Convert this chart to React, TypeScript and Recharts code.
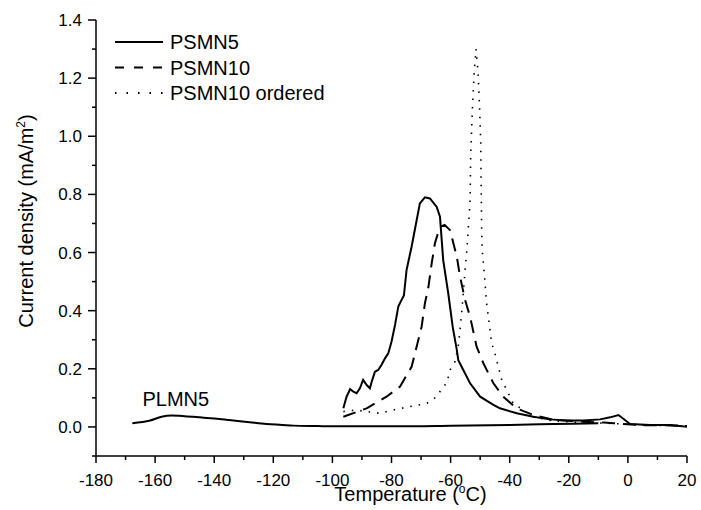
import React from 'react';
import { LineChart, Line, XAxis, YAxis, ReferenceDot } from 'recharts';

// PSMN5 (solid)
const psmn5T = [-96.3, -95.2, -94.0, -92.9, -91.8, -90.7, -89.6, -88.4, -87.3, -86.7, -85.6, -84.5, -83.4, -82.2, -81.1, -80.0, -78.8, -77.7, -76.6, -75.8, -74.9, -73.2, -71.7, -70.4, -68.7, -67.0, -64.7, -63.6, -62.5, -60.8, -59.3, -57.9, -57.4, -55.7, -53.4, -50.0, -45.5, -43.3, -37.6, -32.0, -26.4, -20.7, -15.0, -9.4, -6.0, -3.2, -1.0, 0.7, 7.5, 14.3, 20];
const psmn5V = [0.064, 0.104, 0.130, 0.121, 0.116, 0.133, 0.162, 0.144, 0.133, 0.156, 0.190, 0.196, 0.213, 0.236, 0.253, 0.293, 0.351, 0.414, 0.437, 0.452, 0.540, 0.620, 0.700, 0.769, 0.790, 0.786, 0.757, 0.723, 0.574, 0.460, 0.345, 0.265, 0.230, 0.196, 0.150, 0.104, 0.076, 0.064, 0.047, 0.035, 0.026, 0.022, 0.022, 0.026, 0.033, 0.041, 0.024, 0.010, 0.007, 0.007, 0.001];

// PSMN10 (dashed)
const psmn10T = [-96.3, -88.4, -81.7, -77.1, -73.2, -71.5, -69.8, -68.7, -67.5, -66.4, -65.3, -63.6, -62.0, -60.2, -57.9, -56.8, -55.1, -53.4, -51.2, -48.9, -45.5, -42.2, -37.7, -32.0, -25.0, -15.0, -8.0, -4.9, -2.0, 5.0, 12.0, 20];
const psmn10V = [0.035, 0.064, 0.104, 0.139, 0.207, 0.276, 0.345, 0.425, 0.482, 0.563, 0.632, 0.689, 0.695, 0.677, 0.586, 0.517, 0.437, 0.379, 0.276, 0.219, 0.150, 0.104, 0.064, 0.041, 0.024, 0.018, 0.015, 0.013, 0.010, 0.006, 0.006, 0.003];

// PSMN10 ordered (dotted)
const orderedT = [-96.3, -92.0, -88.4, -83.9, -78.3, -72.6, -68.1, -64.7, -62.5, -61.3, -60.2, -58.5, -57.4, -56.8, -56.2, -55.7, -55.1, -54.5, -53.9, -53.4, -53.2, -52.6, -52.0, -51.4, -50.7, -50.2, -49.8, -49.7, -49.5, -49.3, -48.7, -47.8, -46.1, -45.0, -42.7, -38.8, -32.0, -25.0, -15.0, -5.0, 5.0, 20];
const orderedV = [0.053, 0.058, 0.053, 0.047, 0.061, 0.072, 0.081, 0.104, 0.139, 0.150, 0.196, 0.225, 0.280, 0.334, 0.400, 0.460, 0.540, 0.609, 0.700, 0.780, 0.935, 1.100, 1.220, 1.300, 1.220, 1.100, 0.980, 0.860, 0.690, 0.609, 0.540, 0.425, 0.288, 0.253, 0.162, 0.081, 0.035, 0.020, 0.015, 0.012, 0.006, 0.004];

// PLMN5 (solid, labelled on the plot)
const plmn5T = [-167.7, -161.7, -157.8, -154.4, -150.0, -144.8, -139.0, -133.5, -128.0, -122.3, -117.0, -113.2, -105.0, -99.7, -90.0, -79.0, -60.0, -40.0, -25.0, -10.0];
const plmn5V = [0.013, 0.022, 0.035, 0.039, 0.037, 0.033, 0.028, 0.022, 0.016, 0.010, 0.007, 0.0045, 0.003, 0.002, 0.002, 0.002, 0.004, 0.007, 0.010, 0.013];

const xTicks = [-180, -170, -160, -150, -140, -130, -120, -110, -100, -90, -80, -70, -60, -50, -40, -30, -20, -10, 0, 10, 20];
const yTicks = [-0.1, 0, 0.1, 0.2, 0.3, 0.4, 0.5, 0.6, 0.7, 0.8, 0.9, 1.0, 1.1, 1.2, 1.3, 1.4];

const legendItems = [
  { name: 'PSMN5', dash: undefined },
  { name: 'PSMN10', dash: '9 10' },
  { name: 'PSMN10 ordered', dash: '1.5 10' },
];

const zip = (t: number[], v: number[]) => t.map((x, i) => ({ t: x, v: v[i] }));

const FONT = '"Liberation Sans", Arial, sans-serif';

const BottomTick = (props: any) => {
  const { x, y, payload } = props;
  const major = Math.round(payload.value) % 20 === 0;
  return (
    <g>
      <line x1={x} x2={x} y1={y} y2={y + (major ? 7 : 4)} stroke="#000" strokeWidth={1.5} />
      {major && (
        <text x={x} y={y + 30} textAnchor="middle" fontSize={17} fontFamily={FONT} fill="#000">
          {payload.value}
        </text>
      )}
    </g>
  );
};

const LeftTick = (props: any) => {
  const { x, y, payload } = props;
  const n = Math.round(payload.value * 10);
  const major = n >= 0 && n % 2 === 0;
  return (
    <g>
      <line x1={x} x2={x - (major ? 8 : 4)} y1={y} y2={y} stroke="#000" strokeWidth={1.5} />
      {major && (
        <text x={x - 14} y={y + 6} textAnchor="end" fontSize={17} fontFamily={FONT} fill="#000">
          {payload.value.toFixed(1)}
        </text>
      )}
    </g>
  );
};

const TopTick = (props: any) => {
  const { x, y } = props;
  return <line x1={x} x2={x} y1={y} y2={y + 3} stroke="#000" strokeWidth={1} />;
};

const RightTick = (props: any) => {
  const { x, y } = props;
  return <line x1={x} x2={x - 3} y1={y} y2={y} stroke="#000" strokeWidth={1} />;
};

const XTitle = (props: any) => {
  const { viewBox } = props;
  const cx = viewBox.x + viewBox.width / 2 + 19;
  return (
    <text x={cx} y={viewBox.y + 45} textAnchor="middle" fontSize={20} fontFamily={FONT} fill="#000">
      Temperature (<tspan dy={-8} fontSize={12}>o</tspan>
      <tspan dy={8}>C)</tspan>
    </text>
  );
};

const YTitle = () => (
  <text
    x={33}
    y={221}
    transform="rotate(-90 33 221)"
    textAnchor="middle"
    fontSize={20}
    fontFamily={FONT}
    fill="#000"
  >
    Current density (mA/m<tspan dy={-8} fontSize={12}>2</tspan>
    <tspan dy={8}>)</tspan>
  </text>
);

export default function App() {
  return (
    <div style={{ position: 'absolute', left: 0, top: 0, width: 701, height: 510, background: '#fff' }}>
      <LineChart width={701} height={510} margin={{ top: 20, right: 14, bottom: 0, left: 0 }}>
        <XAxis
          xAxisId="b"
          type="number"
          dataKey="t"
          domain={[-180, 20]}
          ticks={xTicks}
          interval={0}
          orientation="bottom"
          height={54}
          tickSize={0}
          tickMargin={0}
          tickLine={false}
          tick={<BottomTick />}
          axisLine={{ stroke: '#000', strokeWidth: 1.5 }}
          allowDataOverflow
          label={<XTitle />}
        />
        <XAxis
          xAxisId="t"
          type="number"
          dataKey="t"
          domain={[-180, 20]}
          ticks={xTicks}
          interval={0}
          orientation="top"
          height={0}
          tickSize={0}
          tickMargin={0}
          tickLine={false}
          tick={<TopTick />}
          axisLine={{ stroke: '#000', strokeWidth: 1 }}
          allowDataOverflow
        />
        <YAxis
          yAxisId="l"
          type="number"
          domain={[-0.1, 1.4]}
          ticks={yTicks}
          interval={0}
          orientation="left"
          width={96}
          tickSize={0}
          tickMargin={0}
          tickLine={false}
          tick={<LeftTick />}
          axisLine={{ stroke: '#000', strokeWidth: 1.5 }}
          allowDataOverflow
          label={<YTitle />}
        />
        <YAxis
          yAxisId="r"
          type="number"
          domain={[-0.1, 1.4]}
          ticks={yTicks}
          interval={0}
          orientation="right"
          width={0}
          tickSize={0}
          tickMargin={0}
          tickLine={false}
          tick={<RightTick />}
          axisLine={{ stroke: '#000', strokeWidth: 1.5 }}
          allowDataOverflow
        />
        <Line
          xAxisId="b"
          yAxisId="l"
          data={zip(plmn5T, plmn5V)}
          dataKey="v"
          type="monotone"
          stroke="#000"
          strokeWidth={2}
          dot={false}
          isAnimationActive={false}
        />
        <Line
          xAxisId="b"
          yAxisId="l"
          data={zip(orderedT, orderedV)}
          dataKey="v"
          type="linear"
          stroke="#000"
          strokeWidth={1.6}
          strokeDasharray="1.5 7"
          dot={false}
          isAnimationActive={false}
        />
        <Line
          xAxisId="b"
          yAxisId="l"
          data={zip(psmn10T, psmn10V)}
          dataKey="v"
          type="linear"
          stroke="#000"
          strokeWidth={2}
          strokeDasharray="13 8"
          dot={false}
          isAnimationActive={false}
        />
        <Line
          xAxisId="b"
          yAxisId="l"
          data={zip(psmn5T, psmn5V)}
          dataKey="v"
          type="linear"
          stroke="#000"
          strokeWidth={2}
          dot={false}
          isAnimationActive={false}
        />
        <ReferenceDot
          xAxisId="b"
          yAxisId="l"
          x={-153}
          y={0.095}
          r={0}
          fill="none"
          stroke="none"
          label={{ value: 'PLMN5', position: 'center', fontSize: 20, fontFamily: FONT, fill: '#000' }}
        />
      </LineChart>
      <svg
        width={701}
        height={510}
        style={{ position: 'absolute', left: 0, top: 0, pointerEvents: 'none' }}
      >
        {legendItems.map((item, i) => {
          const y = 42 + i * 25.5;
          return (
            <g key={item.name}>
              <line x1={115} x2={163} y1={y} y2={y} stroke="#000" strokeWidth={2} strokeDasharray={item.dash} />
              <text x={170} y={y + 7} fontSize={20} fontFamily={FONT} fill="#000">
                {item.name}
              </text>
            </g>
          );
        })}
      </svg>
    </div>
  );
}
